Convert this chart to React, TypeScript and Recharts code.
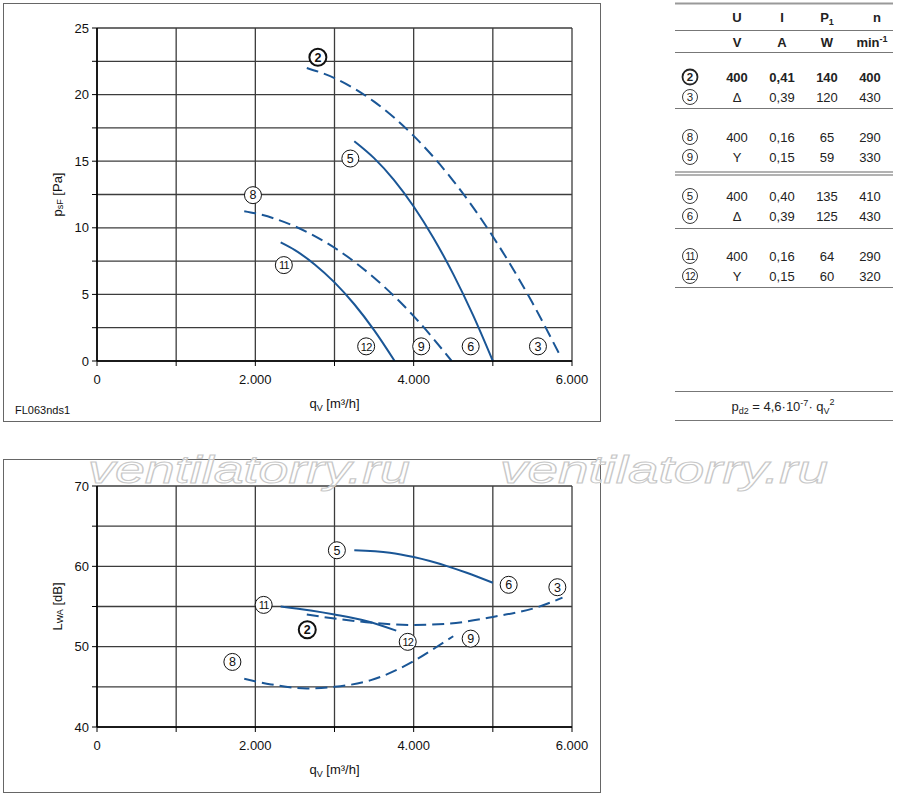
import React from 'react';
import { ComposedChart, Line, Scatter, XAxis, YAxis, CartesianGrid } from 'recharts';

const FONT = '"Liberation Sans", Arial, Helvetica, sans-serif';
const BLUE = '#1a5696';
const DASH = '12 6';

// x axis (air flow qV, m³/h)
const flowTicks = [0, 1000, 2000, 3000, 4000, 5000, 6000];
// pressure chart y ticks (Pa)
const pressureTicks = [0, 2.5, 5, 7.5, 10, 12.5, 15, 17.5, 20, 22.5, 25];
// sound chart y ticks (dB)
const soundTicks = [40, 45, 50, 55, 60, 65, 70];

// ---- pressure curves (x = qV, y = psF) ----
const pressure23 = [
  { x: 2650, y: 22 }, { x: 3000, y: 21.24 }, { x: 3500, y: 19.47 }, { x: 4000, y: 16.9 },
  { x: 4500, y: 13.53 }, { x: 5000, y: 9.35 }, { x: 5500, y: 4.37 }, { x: 5850, y: 0.4 },
];
const pressure56 = [
  { x: 3250, y: 16.5 }, { x: 3500, y: 15.23 }, { x: 3750, y: 13.6 }, { x: 4000, y: 11.6 },
  { x: 4250, y: 9.24 }, { x: 4500, y: 6.52 }, { x: 4750, y: 3.44 }, { x: 5000, y: 0 },
];
const pressure89 = [
  { x: 1860, y: 11.25 }, { x: 2000, y: 11.09 }, { x: 2500, y: 10.11 }, { x: 3000, y: 8.5 },
  { x: 3500, y: 6.25 }, { x: 4000, y: 3.37 }, { x: 4480, y: 0 },
];
const pressure1112 = [
  { x: 2320, y: 8.9 }, { x: 2500, y: 8.32 }, { x: 2750, y: 7.25 }, { x: 3000, y: 5.9 },
  { x: 3250, y: 4.26 }, { x: 3500, y: 2.32 }, { x: 3760, y: 0 },
];
const pressureLabels = [
  { x: 2790, y: 22.8, label: '2', bold: true },
  { x: 3200, y: 15.2, label: '5', bold: false },
  { x: 1970, y: 12.45, label: '8', bold: false },
  { x: 2360, y: 7.2, label: '11', bold: false },
  { x: 3400, y: 1.1, label: '12', bold: false },
  { x: 4095, y: 1.1, label: '9', bold: false },
  { x: 4720, y: 1.1, label: '6', bold: false },
  { x: 5570, y: 1.1, label: '3', bold: false },
];

// ---- sound power curves (x = qV, y = LWA) ----
const sound56 = [
  { x: 3250, y: 62 }, { x: 3700, y: 61.7 }, { x: 4000, y: 61.15 }, { x: 4430, y: 60 },
  { x: 4670, y: 59.2 }, { x: 5000, y: 57.95 },
];
const sound1112 = [
  { x: 2320, y: 55 }, { x: 2700, y: 54.5 }, { x: 3000, y: 54 }, { x: 3400, y: 53.2 }, { x: 3780, y: 52 },
];
const sound23 = [
  { x: 2650, y: 54 }, { x: 3000, y: 53.5 }, { x: 3400, y: 53.05 }, { x: 4000, y: 52.7 },
  { x: 4430, y: 52.85 }, { x: 5000, y: 53.7 }, { x: 5560, y: 54.9 }, { x: 5880, y: 56.1 },
];
const sound89 = [
  { x: 1860, y: 46 }, { x: 2200, y: 45.3 }, { x: 2650, y: 44.8 }, { x: 3000, y: 45 },
  { x: 3450, y: 45.8 }, { x: 4000, y: 48.2 }, { x: 4280, y: 49.9 }, { x: 4500, y: 51.3 },
];
const soundLabels = [
  { x: 3030, y: 62, label: '5', bold: false },
  { x: 5200, y: 57.7, label: '6', bold: false },
  { x: 5815, y: 57.4, label: '3', bold: false },
  { x: 2105, y: 55.2, label: '11', bold: false },
  { x: 2656, y: 52.1, label: '2', bold: true },
  { x: 3925, y: 50.6, label: '12', bold: false },
  { x: 4720, y: 51, label: '9', bold: false },
  { x: 1710, y: 48.1, label: '8', bold: false },
];

// ---- table ----
const rowIds = ['2', '3', '8', '9', '5', '6', '11', '12'];
const rowU = ['400', 'Δ', '400', 'Y', '400', 'Δ', '400', 'Y'];
const rowI = ['0,41', '0,39', '0,16', '0,15', '0,40', '0,39', '0,16', '0,15'];
const rowP = ['140', '120', '65', '59', '135', '125', '64', '60'];
const rowN = ['400', '430', '290', '330', '410', '430', '290', '320'];
const rowBold = [true, false, false, false, false, false, false, false];

const flowFmt = (v: number) => (v % 2000 === 0 ? (v === 0 ? '0' : `${v / 1000}.000`) : '');

const CircleMark = (props: any) => {
  const { cx, cy, payload } = props;
  if (cx == null || cy == null) return null;
  const bold = payload.bold;
  return (
    <g>
      <circle cx={cx} cy={cy} r={8.5} fill="#fff" stroke="#111" strokeWidth={bold ? 2 : 1} />
      <text
        x={cx}
        y={cy}
        dy={4.3}
        textAnchor="middle"
        fontFamily={FONT}
        fontSize={payload.label.length > 1 ? 11 : 12.5}
        fontWeight={bold ? 'bold' : 'normal'}
        fill="#111"
        letterSpacing={payload.label.length > 1 ? -0.8 : 0}
      >
        {payload.label}
      </text>
    </g>
  );
};

const XLabel = (props: any) => {
  const vb = props.viewBox || {};
  return (
    <text x={vb.x + vb.width / 2} y={vb.y + 47} textAnchor="middle" fontFamily={FONT} fontSize={13} fill="#111">
      q<tspan dy={3} fontSize={9}>V</tspan>
      <tspan dy={-3}> [m³/h]</tspan>
    </text>
  );
};

const makeYLabel = (main: string, sub: string, rest: string) => (props: any) => {
  const vb = props.viewBox || {};
  const cx = vb.x + 10;
  const cy = vb.y + vb.height / 2;
  return (
    <text
      x={cx}
      y={cy}
      transform={`rotate(-90, ${cx}, ${cy})`}
      textAnchor="middle"
      dominantBaseline="central"
      fontFamily={FONT}
      fontSize={13}
      fill="#111"
    >
      {main}
      <tspan dy={3} fontSize={9}>{sub}</tspan>
      <tspan dy={-3}>{rest}</tspan>
    </text>
  );
};

type Series = { data: { x: number; y: number }[]; dashed: boolean };

function Chart(props: {
  width: number;
  height: number;
  margin: { top: number; right: number; bottom: number; left: number };
  yDomain: [number, number];
  yTicks: number[];
  yFmt: (v: number) => string;
  series: Series[];
  labels: any[];
  yLabel: (p: any) => any;
}) {
  const { width, height, margin, yDomain, yTicks, yFmt, series, labels, yLabel } = props;
  return (
    <ComposedChart width={width} height={height} margin={margin}>
      <CartesianGrid stroke="#3c3c3c" strokeWidth={1.3} />
      <XAxis
        type="number"
        dataKey="x"
        domain={[0, 6000]}
        ticks={flowTicks}
        interval={0}
        tickFormatter={flowFmt}
        height={30}
        tickSize={5}
        tickMargin={9}
        axisLine={{ stroke: '#000', strokeWidth: 1.6 }}
        tickLine={{ stroke: '#000' }}
        tick={{ fill: '#111', fontSize: 13, fontFamily: FONT }}
        label={XLabel}
        allowDataOverflow
      />
      <YAxis
        type="number"
        dataKey="y"
        domain={yDomain}
        ticks={yTicks}
        interval={0}
        tickFormatter={yFmt}
        width={50}
        tickSize={5}
        tickMargin={3}
        axisLine={{ stroke: '#000', strokeWidth: 1.6 }}
        tickLine={{ stroke: '#000' }}
        tick={{ fill: '#111', fontSize: 13, fontFamily: FONT }}
        label={yLabel}
        allowDataOverflow
      />
      {series.map((s, i) => (
        <Line
          key={i}
          data={s.data}
          dataKey="y"
          type="monotone"
          stroke={BLUE}
          strokeWidth={2}
          strokeDasharray={s.dashed ? DASH : undefined}
          dot={false}
          activeDot={false}
          isAnimationActive={false}
        />
      ))}
      <Scatter data={labels} dataKey="y" shape={CircleMark} isAnimationActive={false} />
    </ComposedChart>
  );
}

const tableRowY = [77, 97, 137, 157, 196, 216, 256, 276];
const colX = { id: 690, U: 737, I: 782, P: 827, n: 872 };

function Table() {
  const ox = 660;
  const tx = (v: number) => v - ox;
  const lineProps = { x1: tx(675), x2: tx(893), stroke: '#777', strokeWidth: 1 };
  const txt = { fontFamily: FONT, fontSize: 13, fill: '#222', textAnchor: 'middle' as const };
  return (
    <svg width={240} height={430} style={{ position: 'absolute', left: ox, top: 0 }}>
      <line {...lineProps} y1={3.5} y2={3.5} stroke="#999" strokeWidth={2} />
      <text {...txt} x={tx(colX.U)} y={22} fontWeight="bold">U</text>
      <text {...txt} x={tx(colX.I)} y={22} fontWeight="bold">I</text>
      <text {...txt} x={tx(colX.P)} y={22} fontWeight="bold">
        P<tspan dy={3} fontSize={9}>1</tspan>
      </text>
      <text {...txt} x={tx(877)} y={22} fontWeight="bold">n</text>
      <line {...lineProps} y1={30.5} y2={30.5} />
      <text {...txt} x={tx(colX.U)} y={47} fontWeight="bold">V</text>
      <text {...txt} x={tx(colX.I)} y={47} fontWeight="bold">A</text>
      <text {...txt} x={tx(colX.P)} y={47} fontWeight="bold">W</text>
      <text {...txt} x={tx(colX.n)} y={47} fontWeight="bold">
        min<tspan dy={-5} fontSize={9}>-1</tspan>
      </text>
      <line {...lineProps} y1={52.5} y2={52.5} />
      {rowIds.map((id, i) => {
        const y = tableRowY[i];
        const b = rowBold[i];
        return (
          <g key={id}>
            <circle cx={tx(colX.id)} cy={y} r={7.5} fill="#fff" stroke="#222" strokeWidth={b ? 1.8 : 0.9} />
            <text
              {...txt}
              x={tx(colX.id)}
              y={y + 4}
              fontSize={id.length > 1 ? 10 : 11.5}
              letterSpacing={id.length > 1 ? -0.8 : 0}
              fontWeight={b ? 'bold' : 'normal'}
            >
              {id}
            </text>
            <text {...txt} x={tx(colX.U)} y={y + 5} fontWeight={b ? 'bold' : 'normal'}>{rowU[i]}</text>
            <text {...txt} x={tx(colX.I)} y={y + 5} fontWeight={b ? 'bold' : 'normal'}>{rowI[i]}</text>
            <text {...txt} x={tx(colX.P)} y={y + 5} fontWeight={b ? 'bold' : 'normal'}>{rowP[i]}</text>
            <text {...txt} x={tx(colX.n - 2)} y={y + 5} fontWeight={b ? 'bold' : 'normal'}>{rowN[i]}</text>
          </g>
        );
      })}
      <line {...lineProps} y1={108.5} y2={108.5} />
      <line {...lineProps} y1={172} y2={172} stroke="#999" strokeWidth={1.3} />
      <line {...lineProps} y1={175} y2={175} stroke="#999" strokeWidth={1.3} />
      <line {...lineProps} y1={228.5} y2={228.5} />
      <line {...lineProps} y1={287.5} y2={287.5} />
      <line {...lineProps} y1={391.5} y2={391.5} />
      <text {...txt} x={tx(783)} y={411}>
        p<tspan dy={3} fontSize={9}>d2</tspan>
        <tspan dy={-3}> = 4,6·10</tspan>
        <tspan dy={-5} fontSize={9}>-7</tspan>
        <tspan dy={5}>· q</tspan>
        <tspan dy={3} fontSize={9}>V</tspan>
        <tspan dy={-9} fontSize={9}>2</tspan>
      </text>
      <line {...lineProps} y1={420.5} y2={420.5} />
    </svg>
  );
}

export default function App() {
  return (
    <div
      style={{
        position: 'absolute',
        left: 0,
        top: 0,
        width: 900,
        height: 797,
        background: '#fff',
        fontFamily: FONT,
        overflow: 'hidden',
      }}
    >
      <div
        style={{
          position: 'absolute',
          left: 3,
          top: 3,
          width: 598,
          height: 419,
          border: '1px solid #666',
          boxSizing: 'border-box',
        }}
      />
      <div
        style={{
          position: 'absolute',
          left: 3,
          top: 459,
          width: 598,
          height: 334,
          border: '1px solid #666',
          boxSizing: 'border-box',
        }}
      />
      <div style={{ position: 'absolute', left: 0, top: 0 }}>
        <Chart
          width={610}
          height={430}
          margin={{ top: 28, right: 38, bottom: 39, left: 47 }}
          yDomain={[0, 25]}
          yTicks={pressureTicks}
          yFmt={(v) => (v % 5 === 0 ? String(v) : '')}
          series={[
            { data: pressure23, dashed: true },
            { data: pressure56, dashed: false },
            { data: pressure89, dashed: true },
            { data: pressure1112, dashed: false },
          ]}
          labels={pressureLabels}
          yLabel={makeYLabel('p', 'sF', ' [Pa]')}
        />
      </div>
      <div
        style={{ position: 'absolute', left: 15, top: 404, fontSize: 11, color: '#111', fontFamily: FONT }}
      >
        FL063nds1
      </div>
      <div style={{ position: 'absolute', left: 0, top: 440 }}>
        <Chart
          width={610}
          height={357}
          margin={{ top: 46, right: 38, bottom: 40, left: 47 }}
          yDomain={[40, 70]}
          yTicks={soundTicks}
          yFmt={(v) => (v % 10 === 0 ? String(v) : '')}
          series={[
            { data: sound56, dashed: false },
            { data: sound1112, dashed: false },
            { data: sound23, dashed: true },
            { data: sound89, dashed: true },
          ]}
          labels={soundLabels}
          yLabel={makeYLabel('L', 'WA', ' [dB]')}
        />
      </div>
      <Table />
      <svg
        width={900}
        height={797}
        style={{ position: 'absolute', left: 0, top: 0, pointerEvents: 'none' }}
      >
        {[88, 500].map((x) => (
          <text
            key={x}
            x={x}
            y={483}
            fontFamily={FONT}
            fontSize={38}
            fontStyle="italic"
            fill="#fff"
            fillOpacity={0.6}
            stroke="#c8c8c8"
            strokeWidth={1}
            textLength={x === 88 ? 322 : 328}
            lengthAdjust="spacingAndGlyphs"
          >
            ventilatorry.ru
          </text>
        ))}
      </svg>
    </div>
  );
}
